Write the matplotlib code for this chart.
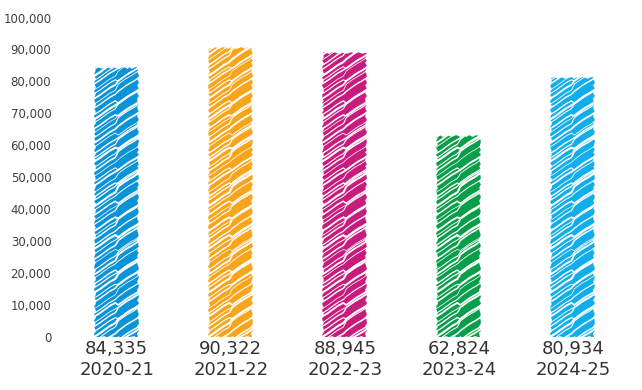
import matplotlib.pyplot as plt
import numpy as np
from matplotlib.collections import LineCollection

seasons = ['2020-21', '2021-22', '2022-23', '2023-24', '2024-25']
totals = [84335, 90322, 88945, 62824, 80934]
colours = ['#0A93D6', '#F8A51C', '#C81B7E', '#0A9E4A', '#12AEEB']

yticks = list(range(0, 100001, 10000))


def scribble(ax, bar):
    # white pencil strokes across the bar, with a kink in the middle
    x0, y0 = bar.get_x(), bar.get_y()
    w, h = bar.get_width(), bar.get_height()
    to_px = ax.transData
    (px0, py0), (px1, py1) = to_px.transform([(x0, y0), (x0 + w, y0 + h)])
    wpx = px1 - px0
    inv = to_px.inverted()
    slope = 0.66
    strokes, widths = [], []
    gaps = [5.0, 3.8, 6.0, 3.4, 4.6, 6.6, 4.0, 5.4]
    lws = [1.0, 0.6, 1.3, 0.8, 0.5, 1.1, 0.7, 1.5, 0.9]
    kinks = [3, -2, 4, 1, -3, 2, 5]
    y = py0 - wpx * slope - 4
    i = 0
    while y < py1 + 4:
        k = kinks[i % len(kinks)]
        mid = px0 + wpx * 0.5
        ym = y + wpx * 0.5 * slope
        pts = [(px0 - 3, y - 3 * slope),
               (mid - 1.5, ym - 1.5 * slope),
               (mid + 1.5, ym + k),
               (px1 + 3, ym + k + (wpx * 0.5 + 1.5) * slope)]
        strokes.append(inv.transform(pts))
        widths.append(lws[i % len(lws)])
        y += gaps[i % len(gaps)]
        i += 1
    lc = LineCollection(strokes, colors='white', linewidths=widths,
                        capstyle='round', joinstyle='round', zorder=3)
    lc.set_clip_path(bar)
    lc.set_sketch_params(0.25, 30, 3)
    ax.add_collection(lc)


fig = plt.figure(figsize=(6.42, 3.9), dpi=100)
ax = fig.add_axes([0.093, 0.136, 0.888, 0.819])

x = np.arange(len(seasons))
bars = ax.bar(x, totals, width=0.38, color=colours, linewidth=0, zorder=2)
ax.set_xlim(-0.5, len(seasons) - 0.5)
ax.set_ylim(0, 100000)

for b in bars:
    b.set_sketch_params(0.8, 10, 3)
    scribble(ax, b)

ax.set_yticks(yticks)
ax.set_yticklabels([f'{v:,}' for v in yticks], fontsize=8.5, color='#404040')
ax.set_xticks(x)
ax.set_xticklabels([f'{v:,}\n{s}' for v, s in zip(totals, seasons)],
                   fontsize=13, color='#333333', linespacing=1.2)
ax.tick_params(length=0, axis='y', pad=6)
ax.tick_params(length=0, axis='x', pad=2)
for s in ax.spines.values():
    s.set_visible(False)

fig.savefig('out.png', dpi=100)
